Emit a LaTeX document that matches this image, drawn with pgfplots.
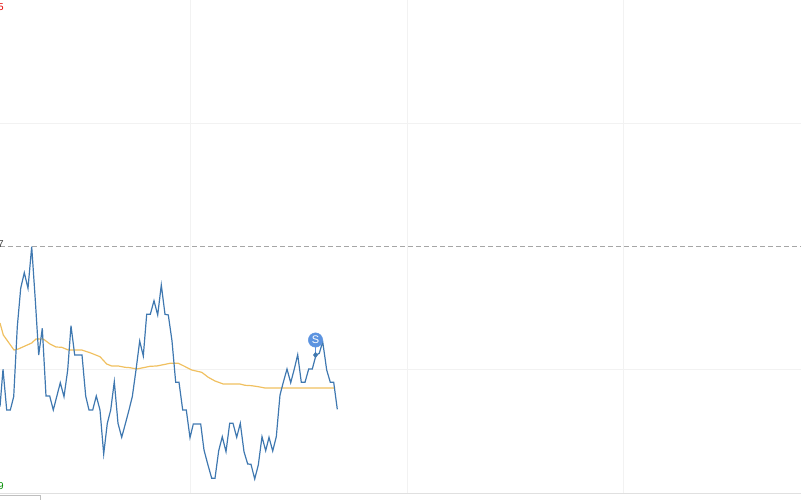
\documentclass[border=0pt]{standalone}
\usepackage{pgfplots}
\usepackage{fontspec}
\setmainfont{Liberation Sans}
\pgfplotsset{compat=1.18}
\definecolor{lineblue}{HTML}{3F78B0}
\definecolor{avgor}{HTML}{F0C060}
\definecolor{gridc}{HTML}{F2F2F2}
\definecolor{sblue}{HTML}{5B93E0}
\begin{document}
\begin{tikzpicture}[inner sep=0pt]
\clip (0,0) rectangle (801pt,500pt);
\begin{axis}[at={(0,0)},anchor=south west,scale only axis,width=801pt,height=500pt,
 xmin=0,xmax=801,ymin=0,ymax=500,y dir=reverse,axis lines=none,clip=true]
% grid
\addplot[gridc,line width=0.9pt] coordinates {(190.5,0)(190.5,493)};
\addplot[gridc,line width=0.9pt] coordinates {(407,0)(407,493)};
\addplot[gridc,line width=0.9pt] coordinates {(623.5,0)(623.5,493)};
\addplot[gridc,line width=0.9pt] coordinates {(0,123.5)(801,123.5)};
\addplot[gridc,line width=0.9pt] coordinates {(0,369.5)(801,369.5)};
\addplot[black!12,line width=0.9pt] coordinates {(0,493.5)(801,493.5)};
% previous-close line
\addplot[black!35,line width=0.9pt,dash pattern=on 5pt off 3pt] coordinates {(0,246)(801,246)};
% average
\addplot[avgor,line width=1.2pt] coordinates {
(0,323)(3.3,335)(8.3,342)(14,350)(18.3,349)(25,346)(31.7,343)(36,339)(43.3,339)(50,344)(56,347)(61.7,347.3)(68.3,350)(81.7,350)(90,352.7)(100,356.7)(106.7,364)(111.7,366)(118.3,366)(125,367.3)(130,367.7)(136.7,369)(143.3,367.7)(150,366.3)(156.7,366)(163.3,364.7)(170,363.3)(178.3,363.3)(183.3,365.7)(191.7,370)(201.7,372.3)(208.3,377.3)(215,381)(223.3,384)(240,384)(245,385.3)(251.7,385.7)(258.3,386.7)(265,388)(335,388)};
% price
\addplot[lineblue,line width=1.2pt] coordinates {
(0,406.7)(3,369.3)(6.7,410)(10.3,410)(13.7,396.7)(17.3,326.7)(20.7,288.3)(24.3,272.7)(28,288.3)(31.7,246.7)(35.3,300)(38.7,355)(42.3,328.3)(46,396)(49.7,396)(53.3,410)(56.7,396.7)(60.3,382.7)(64,396.7)(67.7,370)(71,325.7)(74.7,355)(78.3,355)(82,355)(85.7,396)(89,410)(92.7,410)(96.3,396)(100,410)(103.7,454)(107.3,423.3)(110.7,410)(114.3,381.7)(118,423.3)(121.7,437.3)(125.3,424)(129,410)(132.3,396.7)(136,370)(139.7,341)(143.3,356)(146.7,314.3)(150.3,314.3)(154,300.7)(157.7,315)(161.3,285)(165,314.3)(168.3,315)(172,341)(175.7,382.3)(179,382.3)(182.7,410)(186.3,410)(190,437.7)(193.3,424)(197,424)(200.7,424)(204,450)(207.7,464)(211.7,478.3)(215,478.3)(218.7,450.7)(222.3,436.7)(226,451.7)(229.7,423.3)(233,423.3)(236.7,437.3)(240.3,423.3)(244,451.7)(247.7,464)(251,464.3)(254.7,479)(258.3,465)(262,436.7)(265.7,450.7)(269,437.3)(272.7,451)(276.3,436.7)(280,395)(283.3,382.3)(287,369)(290.7,382.7)(294.3,369)(297.7,354.7)(301.3,382.3)(305,382.3)(308.7,369)(312.3,369)(316,355)(319.3,353.3)(322.7,341.7)(326.7,370)(330.3,382.3)(333.7,382.3)(337.3,409.3)};
% trade marker
\addplot[sblue,line width=1pt] coordinates {(315.5,342)(315.5,355)};
\addplot[only marks,mark=diamond*,mark size=2.8pt,mark options={fill=lineblue,draw=lineblue}] coordinates {(315.5,355)};
\addplot[only marks,mark=*,mark size=7.2pt,mark options={fill=sblue,draw=sblue},
 nodes near coords={\color{white}\fontsize{11}{11}\selectfont S},
 nodes near coords align={center}] coordinates {(315.5,340)};
\node[anchor=east,text=red!90!black,font=\fontsize{10}{10}\selectfont] at (axis cs:3.8,7) {5};
\node[anchor=east,text=black!75,font=\fontsize{10}{10}\selectfont] at (axis cs:3.8,244) {7};
\node[anchor=east,text=green!55!black,font=\fontsize{10}{10}\selectfont] at (axis cs:3.8,486) {9};
\addplot[black!25,fill=white,line width=0.9pt] coordinates {(-2,505)(-2,495.5)(40.5,495.5)(40.5,505)} --cycle;
\end{axis}
\end{tikzpicture}
\end{document}
